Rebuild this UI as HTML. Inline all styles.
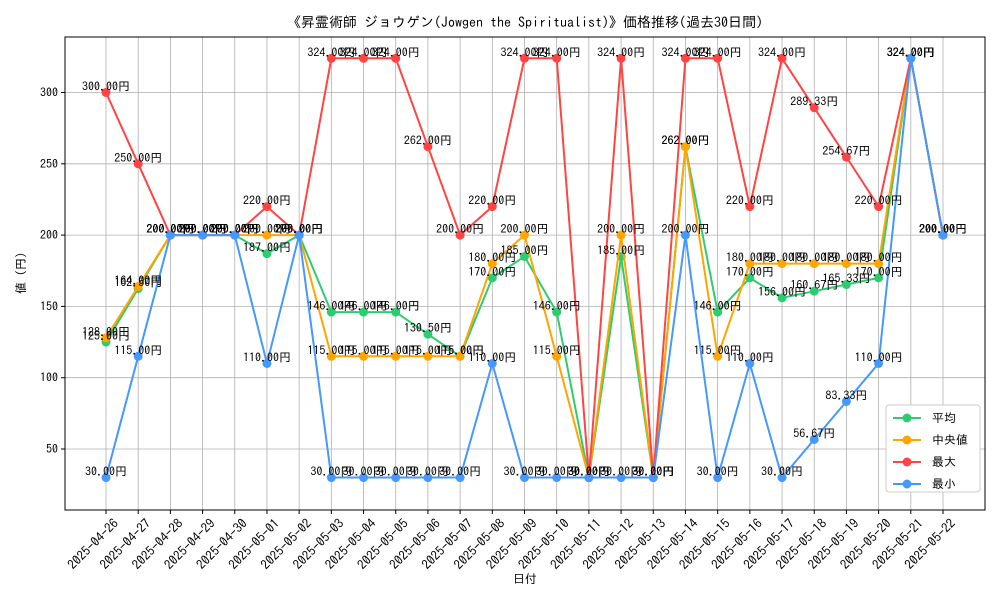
<!DOCTYPE html>
<html><head><meta charset="utf-8"><style>
body{margin:0;background:#fff}
svg text{font-family:"IPAGothic","Liberation Sans",sans-serif}
</style></head><body>
<svg id="c" width="1000" height="600" xmlns="http://www.w3.org/2000/svg"></svg>
<script>
const dates=["2025-04-26","2025-04-27","2025-04-28","2025-04-29","2025-04-30","2025-05-01","2025-05-02","2025-05-03","2025-05-04","2025-05-05","2025-05-06","2025-05-07","2025-05-08","2025-05-09","2025-05-10","2025-05-11","2025-05-12","2025-05-13","2025-05-14","2025-05-15","2025-05-16","2025-05-17","2025-05-18","2025-05-19","2025-05-20","2025-05-21","2025-05-22"];
const meanVals=[125,162.5,200,200,200,187,200,146,146,146,130.5,115,170,185,146,30,185,30,262,146,170,156,160.67,165.33,170,324,200];
const medianVals=[128,164,200,200,200,200,200,115,115,115,115,115,180,200,115,30,200,30,262,115,180,180,180,180,180,324,200];
const maxVals=[300,250,200,200,200,220,200,324,324,324,262,200,220,324,324,30,324,30,324,324,220,324,289.33,254.67,220,324,200];
const minVals=[30,115,200,200,200,110,200,30,30,30,30,30,110,30,30,30,30,30,200,30,110,30,56.67,83.33,110,324,200];
const yTicks=[50,100,150,200,250,300];
const seriesNames=["平均","中央値","最大","最小"];
const NS="http://www.w3.org/2000/svg",svg=document.getElementById('c');
const L=65,R=985,T=37,B=510;
const xs=i=>106+i*(943-106)/(dates.length-1);
const ys=v=>520.3-1.426*v;
function el(t,a,txt){const e=document.createElementNS(NS,t);for(const k in a)e.setAttribute(k,a[k]);if(txt!=null)e.textContent=txt;svg.appendChild(e);return e;}
let e;
e=el('text',{x:525,y:27,'text-anchor':'middle','font-size':14},'《昇霊術師 ジョウゲン(Jowgen the Spiritualist)》価格推移(過去30日間)');

dates.forEach((d,i)=>{const x=xs(i);
 e=el('line',{x1:x,x2:x,y1:T,y2:B,stroke:'#b0b0b0','stroke-width':0.8});
 
 el('line',{x1:x,x2:x,y1:B,y2:B+4,stroke:'#000'});
 e=el('text',{x:x+7,y:B+8,'font-size':13,'text-anchor':'end',transform:`rotate(-45 ${x+7} ${B+8})`,'dominant-baseline':'hanging'},d);
 
});
yTicks.forEach(v=>{const y=ys(v);
 e=el('line',{x1:L,x2:R,y1:y,y2:y,stroke:'#b0b0b0','stroke-width':0.8});
 
 el('line',{x1:L-4,x2:L,y1:y,y2:y,stroke:'#000'});
 e=el('text',{x:L-7,y:y+4,'font-size':12,'text-anchor':'end'},v);
 
});
e=el('rect',{x:L,y:T,width:R-L,height:B-T,fill:'none',stroke:'#000','stroke-width':1});

e=el('text',{x:525,y:583,'font-size':12,'text-anchor':'middle'},'日付');

e=el('text',{x:25,y:273,'font-size':12,'text-anchor':'middle',transform:'rotate(-90 25 273)'},'値 (円)');

const series=[meanVals,medianVals,maxVals,minVals],colors=['#2ecc71','#ffa500','#ff4444','#4499ff'],keys=['mean','median','max','min'];
series.forEach((vals,s)=>{
 e=el('polyline',{points:vals.map((v,i)=>xs(i)+','+ys(v)).join(' '),fill:'none',stroke:colors[s],'stroke-width':2});
 
 vals.forEach((v,i)=>{
  e=el('circle',{cx:xs(i),cy:ys(v),r:4.5,fill:colors[s]});
  
 });
});
series.forEach((vals,s)=>vals.forEach((v,i)=>{
 e=el('text',{x:xs(i),y:ys(v)-2,'font-size':12,'text-anchor':'middle'},v.toFixed(2)+'円');
 
}));
e=el('rect',{x:886,y:405,width:94,height:87,fill:'#fff',stroke:'#ccc',rx:3});

seriesNames.forEach((n,s)=>{const y=418+s*22;
 el('line',{x1:893,x2:921,y1:y,y2:y,stroke:colors[s],'stroke-width':2});
 el('circle',{cx:907,cy:y,r:4.5,fill:colors[s]});
 e=el('text',{x:932,y:y+4,'font-size':12},n);
 
});
</script>
</body></html>
